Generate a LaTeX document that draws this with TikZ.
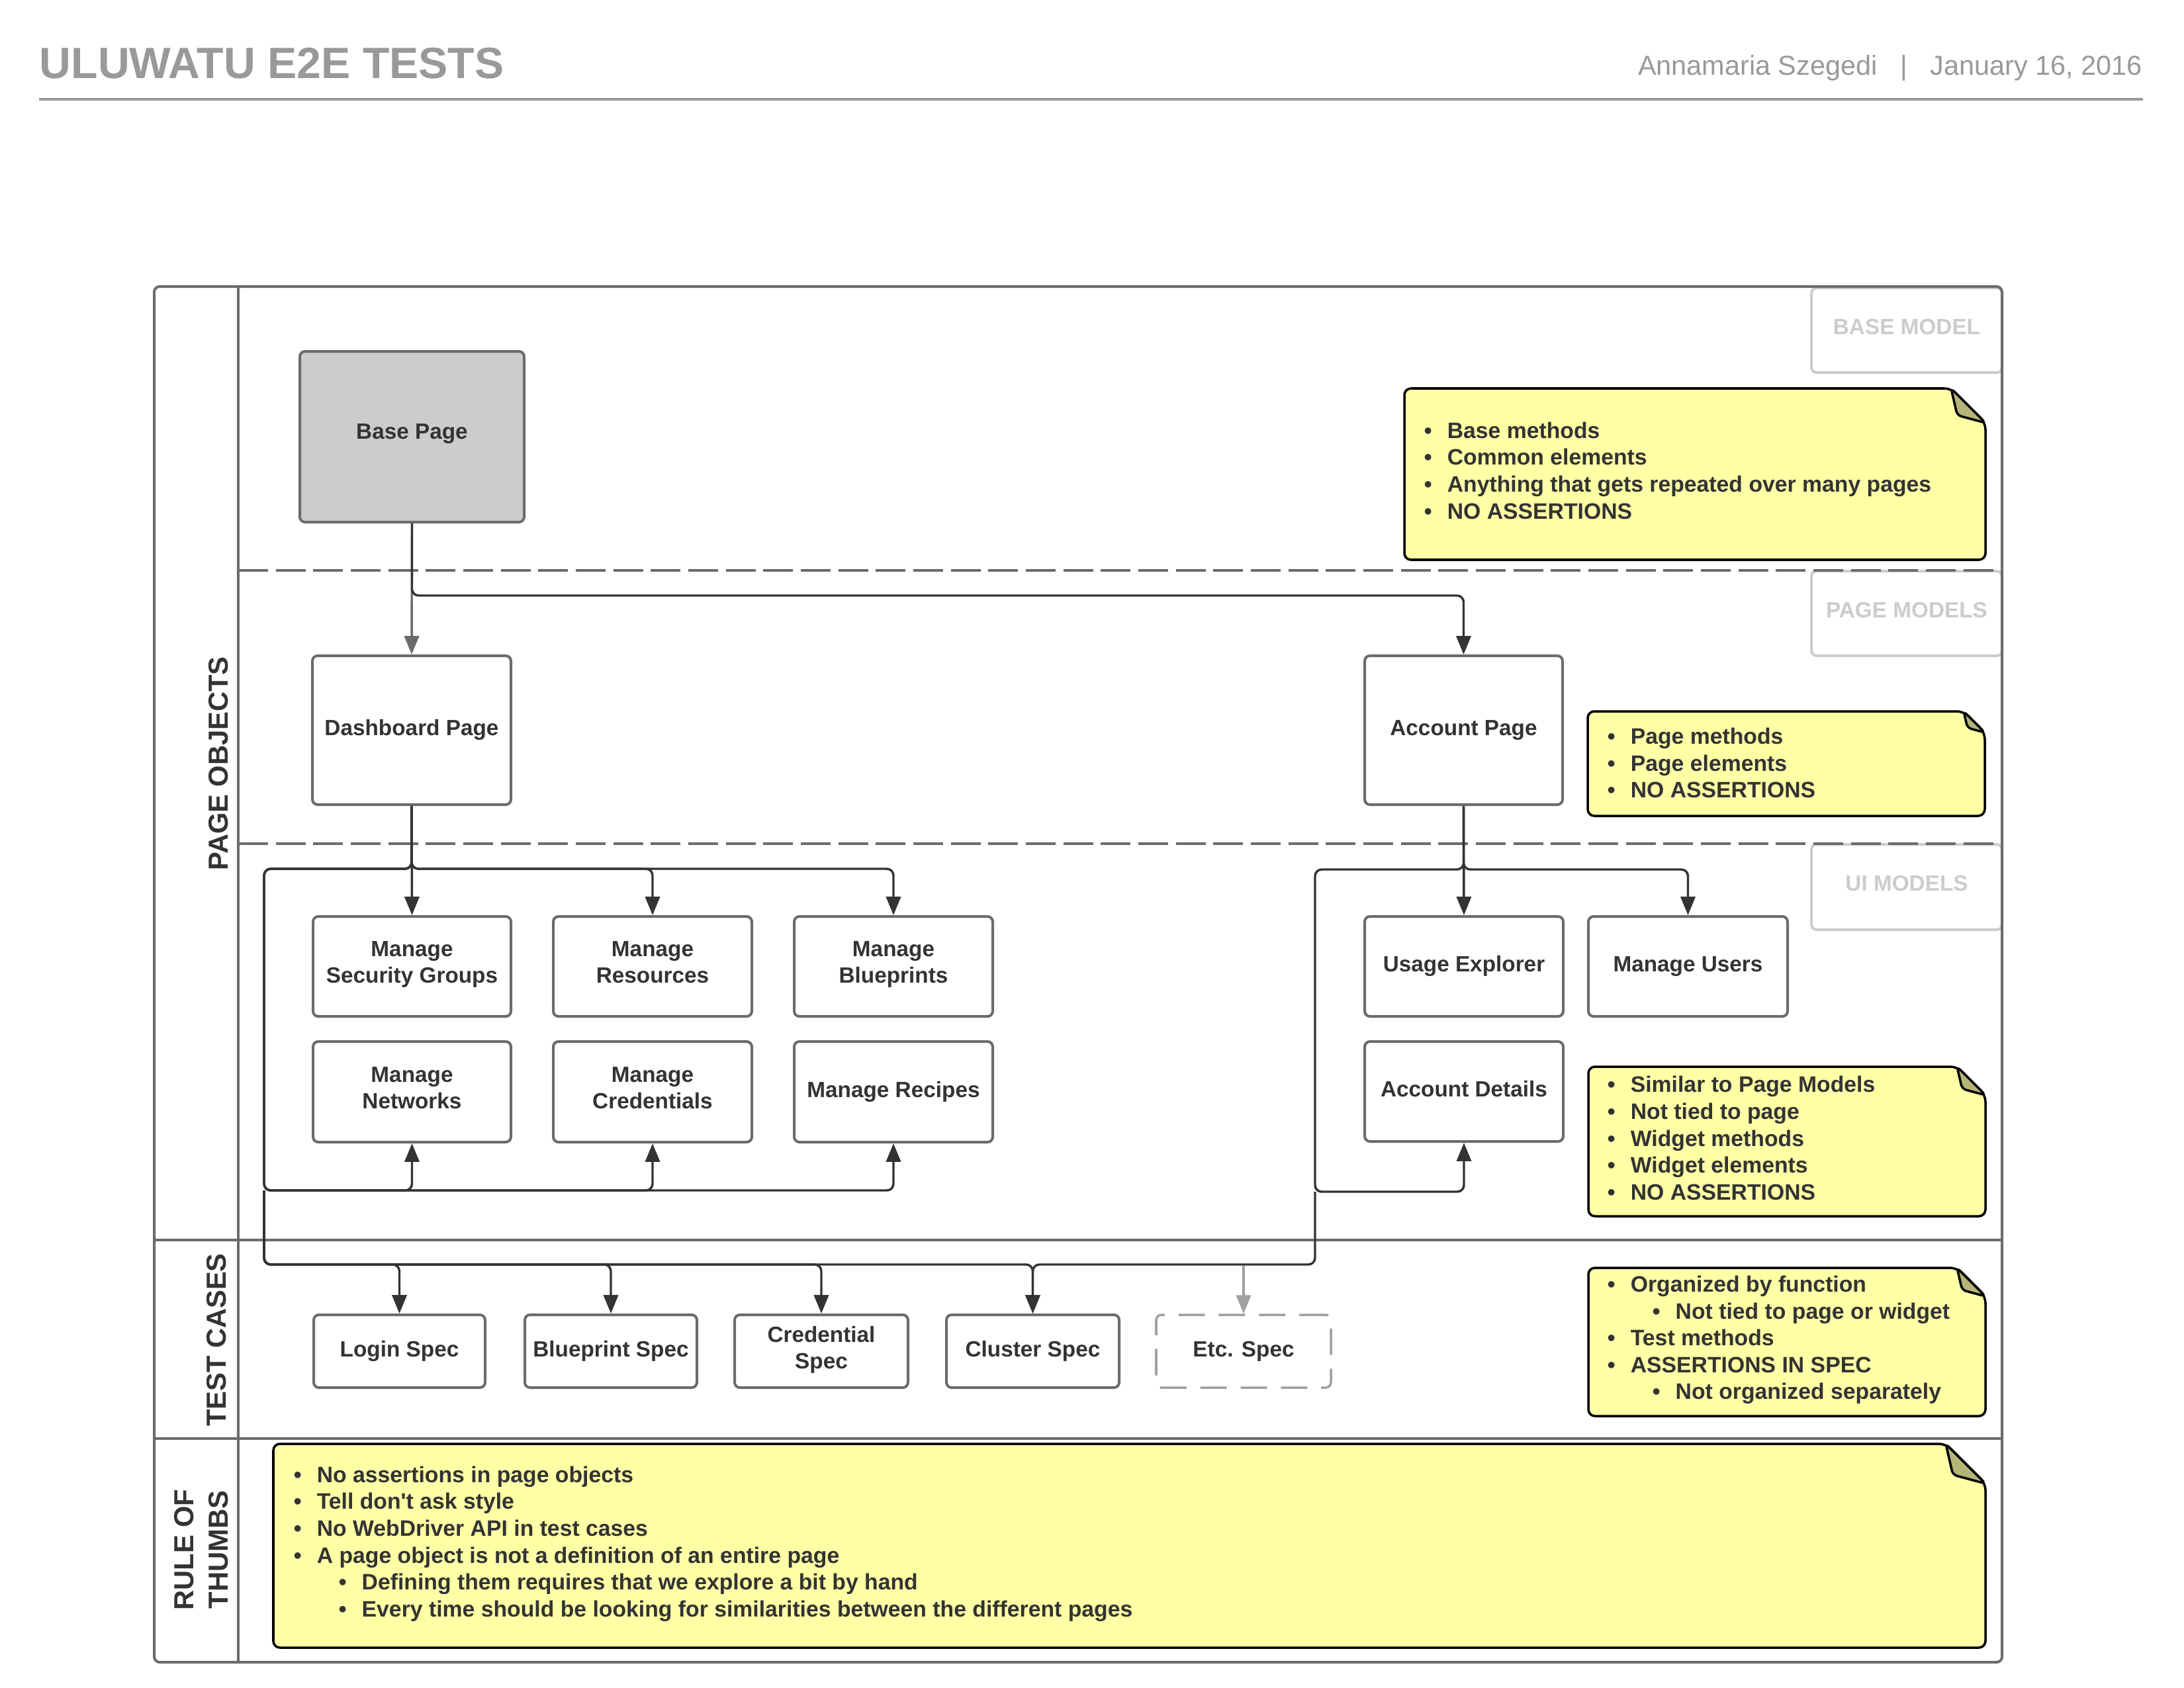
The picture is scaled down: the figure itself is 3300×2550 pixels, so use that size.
\documentclass[tikz,border=0pt]{standalone}
\usepackage{fontspec}
\setmainfont{Liberation Sans}
\usetikzlibrary{arrows.meta}
\definecolor{txt}{HTML}{333333}
\definecolor{frm}{HTML}{6B6B6B}
\definecolor{lbl}{HTML}{CCCCCC}
\definecolor{hdr}{HTML}{999999}
\definecolor{etcc}{HTML}{A0A0A0}
\definecolor{notey}{HTML}{FFFFA6}
\definecolor{flapc}{HTML}{B5B578}
\definecolor{basefill}{HTML}{CCCCCC}
\newcommand\mybox[7][]{%
  \node[boxst,#1,minimum width={(#5-#3)*0.24pt},minimum height={(#6-#4)*0.24pt}] (#2) at ({(#3+#5)/2},{(#4+#6)/2}) {#7};}
\newcommand\stickynote[5]{%
  \draw[notest] (#1,{(#2+#4)/2}) -- (#1,#2) -- ({#3-#5},#2) -- (#3,{#2+#5}) -- (#3,#4) -- (#1,#4) -- cycle;
  \draw[flapst] ({#3-#5},#2) -- ({#3-0.82*#5},{#2+0.78*#5}) -- (#3,{#2+#5}) -- cycle;}
\newcommand\bul[1]{\makebox[8.4pt][l]{\textbullet}#1}
\newcommand\sbul[1]{\hspace*{16.3pt}\makebox[8.4pt][l]{\textbullet}#1}
\begin{document}
\begin{tikzpicture}[x=0.24pt,y=-0.24pt,
  boxst/.style={draw=frm,line width=0.96pt,rounded corners=1.9pt,fill=white,align=center,
    text=txt,font=\bfseries\fontsize{8}{9.6}\selectfont,inner sep=0pt,
    execute at begin node=\strut,execute at end node=\strut},
  conn/.style={draw=txt,line width=0.82pt,rounded corners=2.4pt,-{Triangle[length=6.7pt,width=5.3pt]}},
  gconn/.style={conn,draw=frm,fill=frm},
  etcconn/.style={conn,draw=etcc,line width=0.85pt},
  framest/.style={draw=frm,line width=0.96pt},
  dashst/.style={draw=frm,line width=0.96pt,dash pattern=on 10.8pt off 2.8pt},
  lblbox/.style={draw=lbl,line width=0.96pt,rounded corners=1.9pt},
  lbltxt/.style={text=lbl,font=\bfseries\fontsize{8}{9.6}\selectfont,inner sep=0pt},
  lane/.style={text=txt,font=\bfseries\fontsize{10}{12.5}\selectfont,inner sep=0pt,rotate=90,align=center},
  notest/.style={fill=notey,draw=black,line width=0.85pt,rounded corners=2.4pt},
  flapst/.style={fill=flapc,draw=black,line width=0.85pt,rounded corners=1.5pt,line join=round},
  notetxt/.style={anchor=west,align=left,inner sep=0pt,text=txt,font=\bfseries\fontsize{8.1}{9.75}\selectfont}]
\useasboundingbox (0,0) rectangle (3300,2550);
\fill[white] (0,0) rectangle (3300,2550);

% header
\node[anchor=base west,inner sep=0pt,text=hdr,font=\bfseries\fontsize{15.9}{19}\selectfont] (title) at (59,118) {ULUWATU E2E TESTS};
\node[anchor=base east,inner sep=0pt,text=hdr,font=\fontsize{9.95}{12}\selectfont] (author) at (3238,113) {Annamaria Szegedi\hspace{8.3pt}|\hspace{8.3pt}January 16, 2016};
\draw[draw=hdr,line width=0.96pt] (59,150) -- (3238,150);

% lane label boxes
\draw[lblbox] (2737,435) rectangle (3025,563);
\draw[lblbox] (2737,863) rectangle (3025,991);
\draw[lblbox] (2737,1276) rectangle (3025,1405);
\node[lbltxt] (lbase) at (2881,494) {BASE MODEL};
\node[lbltxt] (lpage) at (2881,922) {PAGE MODELS};
\node[lbltxt] (lui) at (2881,1335) {UI MODELS};

% frame
\draw[framest,rounded corners=2pt] (233,433) rectangle (3025,2512);
\draw[framest] (360,433) -- (360,2512);
\draw[framest] (233,1874) -- (3025,1874);
\draw[framest] (233,2174) -- (3025,2174);
\draw[dashst] (360,862) -- (3025,862);
\draw[dashst] (360,1275) -- (3025,1275);

% lane titles
\node[lane] (lpo) at (330,1154) {PAGE OBJECTS};
\node[lane] (ltc) at (327,2025) {TEST CASES};
\node[lane] (lrt) at (304,2342) {RULE OF\\THUMBS};

% boxes
\mybox[fill=basefill,text depth=5pt]{base}{453}{531}{792}{789}{Base Page}
\mybox{dash}{472}{991}{772}{1216}{Dashboard Page}
\mybox{acct}{2062}{991}{2361}{1216}{Account Page}
\mybox{msg}{473}{1385}{772}{1536}{Manage\\Security Groups}
\mybox{mres}{836}{1385}{1136}{1536}{Manage\\Resources}
\mybox{mbp}{1200}{1385}{1500}{1536}{Manage\\Blueprints}
\mybox{mnet}{473}{1574}{772}{1726}{Manage\\Networks}
\mybox{mcred}{836}{1574}{1136}{1726}{Manage\\Credentials}
\mybox{mrec}{1200}{1574}{1500}{1726}{Manage Recipes}
\mybox{ue}{2062}{1385}{2362}{1536}{Usage Explorer}
\mybox{mu}{2400}{1385}{2701}{1536}{Manage Users}
\mybox{ad}{2062}{1574}{2362}{1725}{Account Details}
\mybox{login}{474}{1987}{733}{2097}{Login Spec}
\mybox{bps}{793}{1987}{1053}{2097}{Blueprint Spec}
\mybox{crs}{1110}{1987}{1372}{2097}{Credential\\Spec}
\mybox{cls}{1430}{1987}{1691}{2097}{Cluster Spec}
\mybox[draw=etcc,line width=0.85pt,dash pattern=on 9.6pt off 5pt]{etc}{1747}{1987}{2011}{2097}{Etc. Spec}

% connectors
\draw[gconn] (base.south) -- (dash.north);
\draw[conn] (base.south) -- ++(0,109) -| (acct.north);
\draw[conn] (dash.south) -- (msg.north);
\draw[conn] (dash.south) -- ++(0,95) -| (mres.north);
\draw[conn] (dash.south) -- ++(0,95) -| (mbp.north);
\draw[conn] (dash.south) -- ++(0,95) -| (399,1799) -| (mnet.south);
\draw[conn] (dash.south) -- ++(0,95) -| (399,1799) -| (mcred.south);
\draw[conn] (dash.south) -- ++(0,95) -| (399,1799) -| (mrec.south);
\draw[conn] (acct.south) -- (ue.north);
\draw[conn] (acct.south) -- ++(0,96) -| (mu.north);
\draw[conn] (acct.south) -- ++(0,96) -| (1987,1801) -| (ad.south);
\coordinate (tl) at (399,1799);
\coordinate (tr) at (1987,1801);
\coordinate (etcstart) at (1879,1913);
\draw[conn] (tl) -- (399,1911) -| (login.north);
\draw[conn] (tl) -- (399,1911) -| (bps.north);
\draw[conn] (tl) -- (399,1911) -| (crs.north);
\draw[conn] (tl) -- (399,1911) -| (cls.north);
\draw[conn] (tr) -- (1987,1911) -| (cls.north);
\draw[etcconn] (etcstart) -- (etc.north);

% notes
\stickynote{2122}{587}{3000}{846}{52}
\node[notetxt] (nbase) at (2151,711) {\bul{Base methods}\\\bul{Common elements}\\\bul{Anything that gets repeated over many pages}\\\bul{NO ASSERTIONS}};
\stickynote{2399}{1075}{2999}{1233}{32}
\node[notetxt] (npage) at (2428,1153) {\bul{Page methods}\\\bul{Page elements}\\\bul{NO ASSERTIONS}};
\stickynote{2400}{1612}{3000}{1838}{43}
\node[notetxt] (nui) at (2428,1720) {\bul{Similar to Page Models}\\\bul{Not tied to page}\\\bul{Widget methods}\\\bul{Widget elements}\\\bul{NO ASSERTIONS}};
\stickynote{2400}{1916}{3000}{2140}{43}
\node[notetxt] (ntest) at (2428,2025) {\bul{Organized by function}\\\sbul{Not tied to page or widget}\\\bul{Test methods}\\\bul{ASSERTIONS IN SPEC}\\\sbul{Not organized separately}};
\stickynote{413}{2182}{3000}{2490}{60}
\node[notetxt] (nrule) at (443,2333) {\bul{No assertions in page objects}\\\bul{Tell don\textquotesingle t ask style}\\\bul{No WebDriver API in test cases}\\\bul{A page object is not a definition of an entire page}\\\sbul{Defining them requires that we explore a bit by hand}\\\sbul{Every time should be looking for similarities between the different pages}};
\end{tikzpicture}
\end{document}
